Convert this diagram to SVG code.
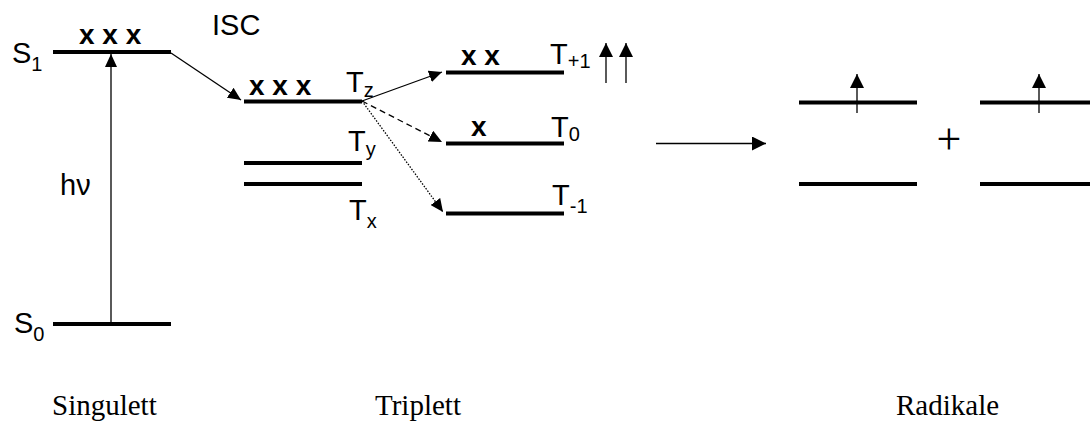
<svg xmlns="http://www.w3.org/2000/svg" width="1090" height="423" viewBox="0 0 1090 423">
<defs>
<style>
.lvl{stroke:#000;stroke-width:4;fill:none}
.con{stroke:#000;stroke-width:1.3;fill:none}
.lab{font-family:"Liberation Sans",Arial,sans-serif;font-size:29px;fill:#000}
.sub{font-family:"Liberation Sans",Arial,sans-serif;font-size:20px;fill:#000}
.xs{font-family:"Liberation Sans",Arial,sans-serif;font-size:28px;font-weight:bold;fill:#000}
.cap{font-family:"Liberation Serif","Times New Roman",serif;font-size:29px;fill:#000}
.plus{font-family:"Liberation Serif","Times New Roman",serif;font-size:44px;fill:#000}
</style>
<marker id="ah" markerUnits="userSpaceOnUse" markerWidth="13" markerHeight="12" refX="13" refY="6" orient="auto">
<path d="M0,0 L13,6 L0,12 z" fill="#000"/>
</marker>
<marker id="sp" markerUnits="userSpaceOnUse" markerWidth="14" markerHeight="14" refX="14" refY="7" orient="auto">
<path d="M0,0 L14,7 L0,14 z" fill="#000"/>
</marker>
</defs>
<rect width="1090" height="423" fill="#fff"/>

<g id="S1">
<line class="lvl" x1="53" y1="52" x2="171" y2="52"/>
<text class="lab" x="12" y="63">S<tspan class="sub" dy="8">1</tspan></text>
<text class="xs" x="79" y="44">x x x</text>
</g>
<g id="S0">
<line class="lvl" x1="53" y1="324" x2="171" y2="324"/>
<text class="lab" x="14" y="333">S<tspan class="sub" dy="8">0</tspan></text>
</g>
<g id="hv"><text class="lab" x="60" y="195">hν</text></g>
<g id="ISC"><text class="lab" x="212" y="35">ISC</text></g>

<g id="Tz">
<line class="lvl" x1="244" y1="101.5" x2="362" y2="101.5"/>
<text class="xs" x="249" y="95">x x x</text>
<text class="lab" x="346" y="92">T<tspan class="sub" dy="5">z</tspan></text>
</g>
<g id="Ty">
<line class="lvl" x1="244" y1="163" x2="362" y2="163"/>
<text class="lab" x="348" y="151">T<tspan class="sub" dy="5">y</tspan></text>
</g>
<g id="Tx">
<line class="lvl" x1="244" y1="184" x2="362" y2="184"/>
<text class="lab" x="349" y="220">T<tspan class="sub" dy="8">x</tspan></text>
</g>

<g id="Tp1">
<line class="lvl" x1="446" y1="72.5" x2="564" y2="72.5"/>
<text class="xs" x="461" y="65">x x</text>
<text class="lab" x="550" y="64">T<tspan class="sub" dy="4">+1</tspan></text>
</g>
<g id="T0">
<line class="lvl" x1="446" y1="143.5" x2="564" y2="143.5"/>
<text class="xs" x="471" y="136">x</text>
<text class="lab" x="551" y="137">T<tspan class="sub" dy="4">0</tspan></text>
</g>
<g id="Tm1">
<line class="lvl" x1="446" y1="213.5" x2="564" y2="213.5"/>
<text class="lab" x="552" y="205">T<tspan class="sub" dy="8">-1</tspan></text>
</g>

<g id="R1">
<line class="lvl" x1="799" y1="102.5" x2="917" y2="102.5"/>
<line class="lvl" x1="799" y1="184" x2="917" y2="184"/>
</g>
<g id="R2">
<line class="lvl" x1="980" y1="102.5" x2="1090" y2="102.5"/>
<line class="lvl" x1="980" y1="184" x2="1090" y2="184"/>
</g>
<g id="plus"><text class="plus" x="949" y="153.5" text-anchor="middle">+</text></g>

<g id="labels">
<text class="cap" x="52" y="415">Singulett</text>
<text class="cap" x="375" y="415">Triplett</text>
<text class="cap" x="896" y="415">Radikale</text>
</g>

<g id="connectors">
<line class="con" x1="111" y1="324" x2="111" y2="54" marker-end="url(#ah)"/>
<line class="con" x1="171" y1="53" x2="241" y2="100" marker-end="url(#ah)"/>
<line class="con" x1="362" y1="101" x2="442" y2="72" marker-end="url(#ah)"/>
<line class="con" x1="362" y1="101" x2="442" y2="142" stroke-dasharray="6,4" marker-end="url(#ah)"/>
<line class="con" x1="362" y1="101" x2="443" y2="212" stroke-dasharray="1.5,1.5" marker-end="url(#ah)"/>
<line class="con" x1="656" y1="143.5" x2="766" y2="143.5" marker-end="url(#sp)"/>
<line class="con" x1="606" y1="83" x2="606" y2="43" marker-end="url(#sp)"/>
<line class="con" x1="626" y1="83" x2="626" y2="43" marker-end="url(#sp)"/>
<line class="con" x1="857" y1="113" x2="857" y2="74" marker-end="url(#sp)"/>
<line class="con" x1="1039" y1="113" x2="1039" y2="74" marker-end="url(#sp)"/>
</g>
</svg>
